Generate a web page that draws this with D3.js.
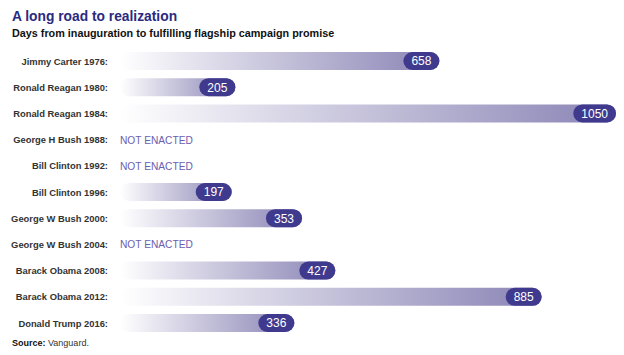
<!DOCTYPE html>
<html><head><meta charset="utf-8">
<script src="https://cdn.jsdelivr.net/npm/d3@7"></script>
<style>body{margin:0;background:#fff}svg{display:block}text{font-family:"Liberation Sans",Arial,sans-serif}</style>
</head><body><svg id="c" width="624" height="355"></svg>
<script>
const presidents = ["Jimmy Carter 1976","Ronald Reagan 1980","Ronald Reagan 1984","George H Bush 1988","Bill Clinton 1992","Bill Clinton 1996","George W Bush 2000","George W Bush 2004","Barack Obama 2008","Barack Obama 2012","Donald Trump 2016"];
const days = [658,205,1050,null,null,197,353,null,427,885,336];
const notEnactedLabel = "NOT ENACTED";
const titleText = "A long road to realization";
const subtitleText = "Days from inauguration to fulfilling flagship campaign promise";

const svg = d3.select("#c");
const data = presidents.map((p,i)=>({name:p, v:days[i]}));
const y = d3.scalePoint().domain(presidents).range([61,323]);
const x = d3.scaleLinear().domain([0,1050]).range([143,616]);
const x0 = 120, barH = 18;

const defs = svg.append("defs");
const g = defs.append("linearGradient").attr("id","grad").attr("x1","0").attr("x2","1").attr("y1","0").attr("y2","0");
g.append("stop").attr("offset","0").attr("stop-color","#ffffff");
g.append("stop").attr("offset","1").attr("stop-color","#8a84b5");

svg.append("text").attr("x",12).attr("y",21).attr("font-size",13.8).attr("font-weight","bold").attr("fill","#2b2a7f").text(titleText);
svg.append("text").attr("x",12).attr("y",37).attr("font-size",10.8).attr("font-weight","bold").attr("fill","#111").text(subtitleText);

const rows = svg.append("g").selectAll("g").data(data).join("g").attr("transform",d=>`translate(0,${y(d.name)})`);
rows.append("text").attr("x",108).attr("y",3.6).attr("text-anchor","end").attr("font-size",9.4).attr("font-weight","bold").attr("fill","#333").text(d=>d.name+":");

const bars = rows.filter(d=>d.v!=null);
bars.append("rect").attr("x",x0).attr("y",-barH/2).attr("height",barH).attr("width",d=>x(d.v)-x0).attr("rx",barH/2).attr("fill","url(#grad)");
bars.each(function(d){
  const sel = d3.select(this);
  const t = sel.append("text").attr("y",4.3).attr("font-size",12).attr("fill","#fff").attr("text-anchor","middle").text(d.v);
  const w = Math.max(35, t.node().getComputedTextLength()+16);
  sel.insert("rect","text:last-child").attr("x",x(d.v)-w).attr("y",-barH/2).attr("width",w).attr("height",barH).attr("rx",barH/2).attr("fill","#3f3a8d");
  t.attr("x",x(d.v)-w/2);
});
rows.filter(d=>d.v==null).append("text").attr("x",120).attr("y",4).attr("font-size",10.2).attr("fill","#6a60b0").text(notEnactedLabel);

const src = svg.append("text").attr("x",12).attr("y",346).attr("font-size",9).attr("fill","#333");
src.append("tspan").attr("font-weight","bold").attr("fill","#111").text("Source:");
src.append("tspan").text(" Vanguard.");
</script></body></html>
